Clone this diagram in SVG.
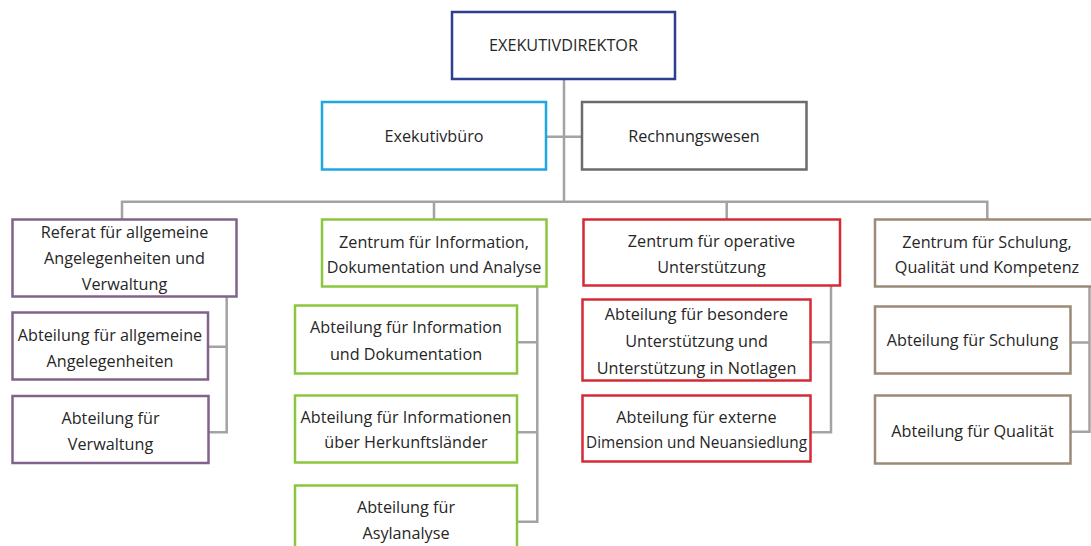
<svg xmlns="http://www.w3.org/2000/svg" width="1091" height="546" viewBox="0 0 1091 546">
<style>
rect{fill:#fff;stroke-width:2.5}
.navy{stroke:#2e3e8e}.cyan{stroke:#1ea6e0}.grey{stroke:#6b6b6b}.purple{stroke:#80638a}.green{stroke:#8cc63f}.red{stroke:#d52a36}.brown{stroke:#9a8a77}
text{font-family:"Open Sans","Liberation Sans",sans-serif;font-size:16.2px;fill:#262626;text-anchor:middle}
.conn path{fill:none;stroke:#a3a3a3;stroke-width:2.5}
</style>
<rect x="0" y="0" width="1091" height="546" style="fill:#fff;stroke:none"/>
<g class="conn" id="connectors">
<path d="M564 79V201.7M546 136.7H582M122 219V201.7H987.3V219M434 201.7V219M726.7 201.7V219"/>
<path d="M226.7 296.7V432.3H209M226.7 346.7H208"/>
<path d="M537.3 286.7V521.7H517M537.3 342.3H517M537.3 432.3H517"/>
<path d="M831 285.5V432.3H810.7M831 342.3H810.7"/>
<path d="M1089.5 286.5V431.7H1070.5M1089.5 342.5H1070.5"/>
</g>
<g id="director"><rect class="navy" x="452" y="12" width="223" height="67"/><text x="563.5" y="51">EXEKUTIVDIREKTOR</text></g>
<g id="exekutivbuero"><rect class="cyan" x="322" y="102" width="224" height="67.5"/><text x="434" y="142">Exekutivbüro</text></g>
<g id="rechnungswesen"><rect class="grey" x="582" y="102" width="224.5" height="67.5"/><text x="694" y="142">Rechnungswesen</text></g>
<g id="referat"><rect class="purple" x="12.5" y="219.5" width="224" height="77"/><text x="124.5" y="238">Referat für allgemeine</text><text x="124.5" y="264">Angelegenheiten und</text><text x="124.5" y="290">Verwaltung</text></g>
<g id="abt-allgemein"><rect class="purple" x="12.5" y="312.5" width="195.5" height="67"/><text x="110" y="341">Abteilung für allgemeine</text><text x="110" y="367">Angelegenheiten</text></g>
<g id="abt-verwaltung"><rect class="purple" x="12.5" y="396" width="196" height="67"/><text x="110.5" y="424">Abteilung für</text><text x="110.5" y="450">Verwaltung</text></g>
<g id="zentrum-info"><rect class="green" x="322" y="219.5" width="224.5" height="67"/><text x="434" y="248">Zentrum für Information,</text><text x="434" y="273">Dokumentation und Analyse</text></g>
<g id="abt-info-dok"><rect class="green" x="295" y="305.5" width="222" height="68"/><text x="406" y="333">Abteilung für Information</text><text x="406" y="360">und Dokumentation</text></g>
<g id="abt-herkunft"><rect class="green" x="295" y="395.5" width="222" height="67"/><text x="406" y="423">Abteilung für Informationen</text><text x="406" y="448">über Herkunftsländer</text></g>
<g id="abt-asyl"><rect class="green" x="295" y="485.5" width="222" height="80"/><text x="406" y="513">Abteilung für</text><text x="406" y="539">Asylanalyse</text></g>
<g id="zentrum-operativ"><rect class="red" x="583.5" y="219.5" width="256.5" height="66"/><text x="711.5" y="247">Zentrum für operative</text><text x="711.5" y="273">Unterstützung</text></g>
<g id="abt-besondere"><rect class="red" x="582.5" y="299.5" width="228" height="81"/><text x="696.5" y="320">Abteilung für besondere</text><text x="696.5" y="347">Unterstützung und</text><text x="696.5" y="374">Unterstützung in Notlagen</text></g>
<g id="abt-extern"><rect class="red" x="582.5" y="395.5" width="228" height="66"/><text x="696.5" y="423">Abteilung für externe</text><text x="696.5" y="448" textLength="221" lengthAdjust="spacingAndGlyphs">Dimension und Neuansiedlung</text></g>
<g id="zentrum-schulung"><rect class="brown" x="875" y="219.5" width="224" height="67"/><text x="987" y="248">Zentrum für Schulung,</text><text x="987" y="273">Qualität und Kompetenz</text></g>
<g id="abt-schulung"><rect class="brown" x="875" y="306.5" width="195.5" height="67"/><text x="972.5" y="346">Abteilung für Schulung</text></g>
<g id="abt-qualitaet"><rect class="brown" x="875" y="395.5" width="195.5" height="68"/><text x="972.5" y="437">Abteilung für Qualität</text></g>
</svg>
